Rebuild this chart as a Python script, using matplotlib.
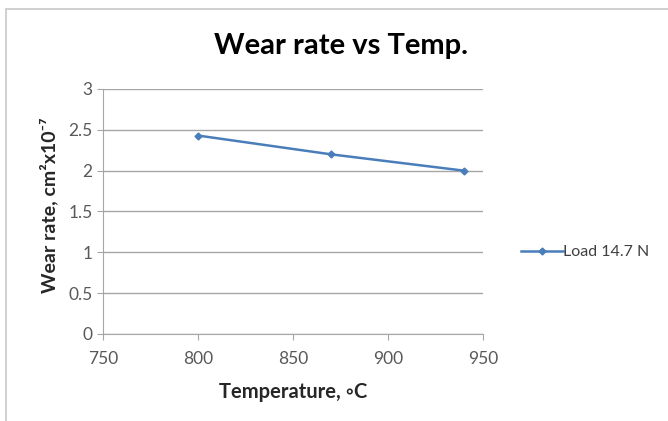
import matplotlib
matplotlib.use("Agg")
import matplotlib.pyplot as plt
from matplotlib.patches import Rectangle

temperature = [800, 870, 940]
wear_rate = [2.43, 2.2, 2.0]
series_label = "Load 14.7 N"
x_ticks = [750, 800, 850, 900, 950]
y_ticks = [0, 0.5, 1, 1.5, 2, 2.5, 3]
y_tick_labels = ["0", "0.5", "1", "1.5", "2", "2.5", "3"]

plt.rcParams['font.family'] = ['Lato', 'DejaVu Sans']

W, H = 668, 421
fig = plt.figure(figsize=(W/100, H/100), dpi=100)
fig.patch.set_facecolor("white")
fig.patches.append(Rectangle((6/W, -0.2), 1.2, 1.2 - 9/H, transform=fig.transFigure,
                             fill=False, edgecolor="#c8c8c8", linewidth=1.2))

ax = fig.add_axes([103/W, 1 - 334/H, 380/W, 245/H])
line_color = "#4a7ebb"
ax.plot(temperature, wear_rate, color=line_color, linewidth=1.8, marker="D",
        markersize=3.5, label=series_label)
ax.set_xlim(750, 950)
ax.set_ylim(0, 3)
ax.set_xticks(x_ticks)
ax.set_yticks(y_ticks)
ax.set_yticklabels(y_tick_labels)
ax.grid(axis="y", color="#a6a6a6", linewidth=1)
ax.set_axisbelow(True)
for s in ["top", "right"]:
    ax.spines[s].set_visible(False)
ax.spines["left"].set_color("#a6a6a6")
ax.spines["bottom"].set_color("#a6a6a6")
ax.tick_params(axis="both", colors="#a6a6a6", labelcolor="#595959", labelsize=12.5, length=4)
ax.tick_params(axis="x", pad=8)

fig.text(341/W, 1 - 46/H, "Wear rate vs Temp.", ha="center", va="center",
         fontsize=21, fontweight="bold", color="black")
ax.set_xlabel("Temperature, \u25e6C", fontsize=14.5, fontweight="bold", color="#262626", labelpad=11)
ax.set_ylabel("Wear rate, cm\u00b2x10\u207b\u2077", fontsize=14, fontweight="bold", color="#262626")
ax.yaxis.set_label_coords(-0.118, 0.525)

ax.legend(loc="center left", bbox_to_anchor=(507/W, 1 - 252/H), bbox_transform=fig.transFigure,
          frameon=False, fontsize=11.5, handlelength=2.6, handletextpad=0.0, labelcolor="#404040")

fig.savefig("out.png", dpi=100)
